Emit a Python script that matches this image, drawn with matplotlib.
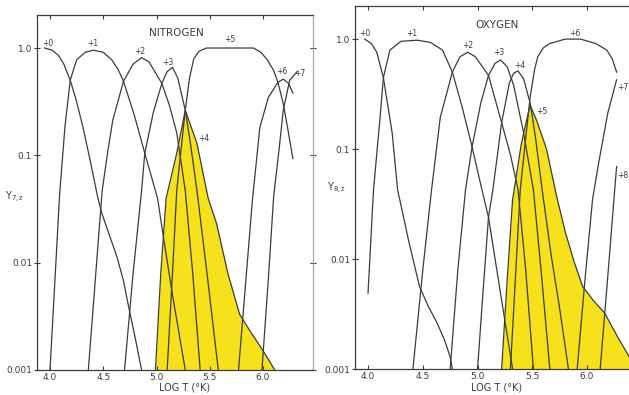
import numpy as np
import matplotlib
matplotlib.use("Agg")
import matplotlib.pyplot as plt

plt.rcParams['mathtext.default'] = 'regular'

# ---- NITROGEN: log T and log10(Y) ----
n0_T = [3.95, 4.02, 4.08, 4.13, 4.19, 4.25, 4.31, 4.38, 4.45, 4.49, 4.56, 4.63, 4.69, 4.74, 4.80, 4.86]
n0_L = [0.0, -0.02, -0.07, -0.15, -0.30, -0.50, -0.74, -1.06, -1.40, -1.55, -1.75, -1.95, -2.17, -2.42, -2.70, -3.0]
n1_T = [4.00, 4.05, 4.09, 4.14, 4.19, 4.25, 4.33, 4.41, 4.50, 4.58, 4.64, 4.69, 4.79, 4.89, 5.01, 5.06, 5.15, 5.27]
n1_L = [-3.0, -2.1, -1.37, -0.74, -0.30, -0.11, -0.04, -0.02, -0.04, -0.11, -0.20, -0.31, -0.62, -0.98, -1.40, -1.73, -2.30, -3.0]
n2_T = [4.36, 4.43, 4.49, 4.54, 4.59, 4.69, 4.78, 4.86, 4.93, 5.05, 5.12, 5.19, 5.27, 5.34, 5.41]
n2_L = [-3.0, -2.1, -1.33, -0.98, -0.67, -0.31, -0.15, -0.09, -0.13, -0.33, -0.53, -0.79, -1.33, -2.1, -3.0]
n3_T = [4.70, 4.78, 4.86, 4.89, 4.97, 5.05, 5.10, 5.15, 5.20, 5.27, 5.32, 5.38, 5.48, 5.58]
n3_L = [-3.0, -2.1, -1.33, -0.98, -0.60, -0.33, -0.22, -0.18, -0.28, -0.58, -0.90, -1.33, -2.15, -3.0]
n4_T = [4.99, 5.04, 5.09, 5.19, 5.27, 5.38, 5.485, 5.565, 5.67, 5.78, 5.88, 6.00, 6.11]
n4_L = [-3.0, -2.1, -1.40, -0.98, -0.58, -0.89, -1.40, -1.64, -2.10, -2.48, -2.64, -2.82, -3.0]
n5_T = [5.10, 5.15, 5.19, 5.23, 5.27, 5.31, 5.35, 5.40, 5.47, 5.60, 5.75, 5.91, 5.98, 6.04, 6.10, 6.14, 6.19, 6.23, 6.28]
n5_L = [-3.0, -2.1, -1.33, -0.95, -0.58, -0.28, -0.10, -0.03, 0.0, 0.0, 0.0, 0.0, -0.04, -0.11, -0.21, -0.32, -0.52, -0.74, -1.03]
n6_T = [5.77, 5.84, 5.90, 5.97, 6.05, 6.14, 6.19, 6.24, 6.28]
n6_L = [-3.0, -2.15, -1.42, -0.74, -0.46, -0.32, -0.29, -0.33, -0.42]
n7_T = [5.99, 6.05, 6.10, 6.15, 6.19, 6.25, 6.32]
n7_L = [-3.0, -2.15, -1.38, -0.95, -0.58, -0.30, -0.22]

# ---- OXYGEN ----
o0_T = [3.97, 4.03, 4.08, 4.14, 4.22, 4.27, 4.37, 4.47, 4.55, 4.63, 4.70, 4.75, 4.77]
o0_L = [0.0, -0.04, -0.12, -0.35, -0.85, -1.37, -1.83, -2.25, -2.43, -2.58, -2.74, -2.89, -3.0]
o1_T = [4.00, 4.05, 4.11, 4.14, 4.20, 4.30, 4.45, 4.57, 4.68, 4.77, 4.86, 4.95, 5.04, 5.10, 5.20, 5.32]
o1_L = [-2.31, -1.37, -0.71, -0.35, -0.10, -0.02, -0.01, -0.03, -0.10, -0.30, -0.62, -0.98, -1.37, -1.62, -2.25, -3.0]
o2_T = [4.41, 4.50, 4.58, 4.66, 4.77, 4.84, 4.91, 4.98, 5.10, 5.22, 5.30, 5.37, 5.44, 5.51]
o2_L = [-3.0, -2.1, -1.37, -0.71, -0.30, -0.16, -0.12, -0.16, -0.33, -0.76, -1.05, -1.37, -2.1, -3.0]
o3_T = [4.75, 4.82, 4.89, 4.95, 5.03, 5.10, 5.16, 5.21, 5.27, 5.33, 5.42, 5.51, 5.58, 5.66]
o3_L = [-3.0, -2.1, -1.37, -0.98, -0.58, -0.33, -0.22, -0.19, -0.25, -0.42, -0.85, -1.37, -2.1, -3.0]
o4_T = [5.00, 5.05, 5.10, 5.14, 5.22, 5.29, 5.33, 5.37, 5.42, 5.48, 5.53, 5.59, 5.67, 5.75, 5.83]
o4_L = [-3.0, -2.3, -1.62, -1.37, -0.76, -0.40, -0.31, -0.29, -0.36, -0.58, -0.90, -1.37, -1.95, -2.45, -3.0]
o5_T = [5.22, 5.27, 5.32, 5.40, 5.48, 5.54, 5.63, 5.72, 5.80, 5.88, 5.96, 6.06, 6.16, 6.28, 6.38, 6.46]
o5_L = [-3.0, -2.2, -1.46, -0.95, -0.60, -0.74, -1.0, -1.42, -1.75, -2.02, -2.25, -2.38, -2.49, -2.71, -2.88, -3.0]
o6_T = [5.30, 5.35, 5.39, 5.44, 5.48, 5.52, 5.55, 5.60, 5.66, 5.80, 5.94, 6.08, 6.18, 6.23, 6.27]
o6_L = [-3.0, -2.1, -1.37, -0.90, -0.53, -0.28, -0.16, -0.08, -0.04, 0.0, 0.0, -0.04, -0.10, -0.18, -0.30]
o7_T = [5.91, 5.98, 6.05, 6.10, 6.19, 6.27]
o7_L = [-3.0, -2.2, -1.46, -1.16, -0.67, -0.37]
o8_T = [6.12, 6.19, 6.25, 6.27]
o8_L = [-3.0, -2.15, -1.40, -1.16]

ytick_vals = [1.0, 0.1, 0.01, 0.001]
ytick_labels = ["1.0", "0.1", "0.01", "0.001"]
xtick_vals = [4.0, 4.5, 5.0, 5.5, 6.0]
xtick_labels = ["4.0", "4.5", "5.0", "5.5", "6.0"]

# label text, log T, Y
n_labels = [("+0", 3.98, 1.11), ("+1", 4.40, 1.11), ("+2", 4.845, 0.92), ("+3", 5.11, 0.74),
            ("+4", 5.44, 0.144), ("+5", 5.69, 1.19), ("+6", 6.18, 0.60), ("+7", 6.35, 0.58)]
o_labels = [("+0", 3.97, 1.13), ("+1", 4.40, 1.13), ("+2", 4.91, 0.88), ("+3", 5.19, 0.75),
            ("+4", 5.39, 0.58), ("+5", 5.59, 0.22), ("+6", 5.89, 1.13), ("+7", 6.325, 0.36),
            ("+8", 6.325, 0.058)]

ink = "#3c3c3c"
yellow = "#f6e21c"

fig = plt.figure(figsize=(6.29, 3.95), dpi=100)
ax1 = fig.add_axes([0.0588, 0.0633, 0.4388, 0.8987])
ax2 = fig.add_axes([0.5644, 0.0658, 0.4563, 0.919])


def Y(vals):
    return 10.0 ** np.array(vals)


def setup(ax, xlim, ytop):
    ax.set_yscale("log")
    ax.set_xlim(*xlim)
    ax.set_ylim(0.001, ytop)
    ax.set_yticks(ytick_vals)
    ax.set_yticklabels(ytick_labels)
    ax.minorticks_off()
    ax.set_xticks(xtick_vals)
    ax.set_xticklabels(xtick_labels)
    ax.tick_params(axis="x", direction="in", top=True, length=3, width=0.8,
                   labelsize=6.5, colors=ink, pad=2)
    ax.tick_params(axis="y", direction="inout", right=True, length=5, width=0.8,
                   labelsize=6.5, colors=ink, pad=1)
    for s in ax.spines.values():
        s.set_color(ink)
        s.set_linewidth(0.9)
    ax.spines["right"].set_color("#aaaaaa")


# nitrogen
setup(ax1, (3.878, 6.469), 2.03)
ax1.fill_between(n4_T, Y(n4_L), 0.001, color=yellow, lw=0, zorder=1)
for t, l in [(n0_T, n0_L), (n1_T, n1_L), (n2_T, n2_L), (n3_T, n3_L), (n4_T, n4_L),
             (n5_T, n5_L), (n6_T, n6_L), (n7_T, n7_L)]:
    ax1.plot(t, Y(l), color=ink, lw=0.9, zorder=2)
for txt, x, y in n_labels:
    ax1.text(x, y, txt, fontsize=5.5, color=ink, ha="center", va="center")
ax1.text(5.19, 1.38, "NITROGEN", fontsize=7.5, color=ink, ha="center", va="center")

# oxygen
setup(ax2, (3.881, 6.502), 2.0)
ax2.fill_between(o5_T, Y(o5_L), 0.001, color=yellow, lw=0, zorder=1)
for t, l in [(o0_T, o0_L), (o1_T, o1_L), (o2_T, o2_L), (o3_T, o3_L), (o4_T, o4_L),
             (o5_T, o5_L), (o6_T, o6_L), (o7_T, o7_L), (o8_T, o8_L)]:
    ax2.plot(t, Y(l), color=ink, lw=0.9, zorder=2)
for txt, x, y in o_labels:
    ax2.text(x, y, txt, fontsize=5.5, color=ink, ha="center", va="center")
ax2.text(5.18, 1.34, "OXYGEN", fontsize=7.5, color=ink, ha="center", va="center")

fig.text(15 / 629, 1 - 197 / 395, "$Y_{7,z}$", fontsize=7, color=ink, ha="center", va="center")
fig.text(337 / 629, 1 - 188 / 395, "$Y_{8,z}$", fontsize=7, color=ink, ha="center", va="center")
fig.text(185 / 629, 1 - 387 / 395, "LOG T (°K)", fontsize=7, color=ink, ha="center", va="center")
fig.text(497 / 629, 1 - 388 / 395, "LOG T (°K)", fontsize=7, color=ink, ha="center", va="center")

fig.savefig("out.png", dpi=100)
